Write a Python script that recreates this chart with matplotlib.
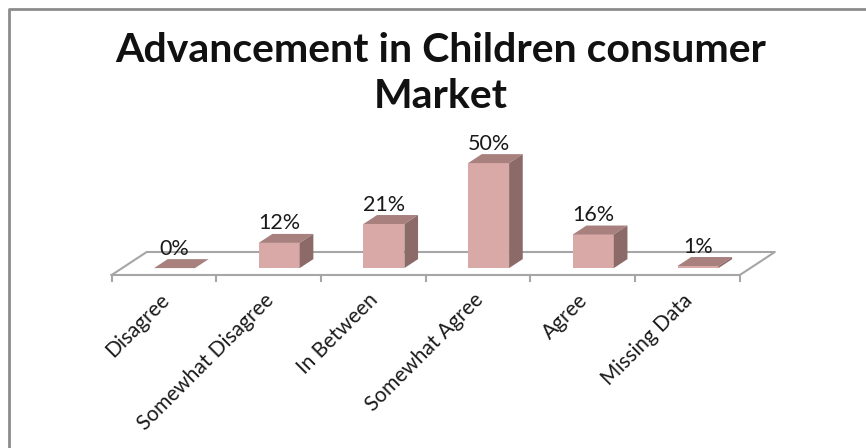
import matplotlib.pyplot as plt
from matplotlib.patches import Polygon

categories = ['Disagree', 'Somewhat Disagree', 'In Between', 'Somewhat Agree', 'Agree', 'Missing Data']
values = [0, 12, 21, 50, 16, 1]
value_labels = ['0%', '12%', '21%', '50%', '16%', '1%']

plt.rcParams['font.family'] = ['Lato', 'DejaVu Sans']

W, H = 866, 448
PX = 104.7   # pixels per category
PY = 2.1     # pixels per percent
X0 = 164     # pixel x of first category centre
Y0 = 275     # pixel y (from top) of floor front edge

# floor depth (full) and bar placement inside it, as fractions of depth
DX = 35 / PX
DY = 23 / PY
Z0, Z1 = 0.30, 0.69
BW = 41 / PX

front_c = '#d9a9a8'
top_c = '#a8817f'
side_c = '#8b6a68'
grid_c = '#a6a6a6'

fig = plt.figure(figsize=(W / 100, H / 100), dpi=100)
ax = fig.add_axes([0, 0, 1, 1])
ax.set_xlim(-X0 / PX, (W - X0) / PX)
ax.set_ylim((Y0 - H) / PY, Y0 / PY)
ax.axis('off')

n = len(categories)
xl, xr = -0.5, n - 0.5

# floor outline
ax.plot([xl, xr, xr + DX, xl + DX, xl], [0, 0, DY, DY, 0], color=grid_c, lw=1.5, zorder=1)
for i in range(n + 1):
    ax.plot([xl + i, xl + i], [0, -6 / PY], color=grid_c, lw=1.5, zorder=1)

# bars: front face via bar(), then top and side faces
xs = [i + Z0 * DX for i in range(n)]
base = Z0 * DY
ddx, ddy = (Z1 - Z0) * DX, (Z1 - Z0) * DY
ax.bar(xs, values, width=BW, bottom=base, color=front_c, zorder=3)
for x, v, lab in zip(xs, values, value_labels):
    l, r = x - BW / 2, x + BW / 2
    t = base + v
    ax.add_patch(Polygon([(l, t), (r, t), (r + ddx, t + ddy), (l + ddx, t + ddy)],
                         closed=True, facecolor=top_c, edgecolor='none', zorder=3))
    if v > 0:
        ax.add_patch(Polygon([(r, base), (r + ddx, base + ddy), (r + ddx, t + ddy), (r, t)],
                             closed=True, facecolor=side_c, edgecolor='none', zorder=3))
    ax.text(x, t + ddy + 4.5 / PY, lab, ha='center', va='baseline', fontsize=15.5, color='#1a1a1a', zorder=4)

# category labels
for i, c in enumerate(categories):
    ax.text(i - 0.05, -15 / PY, c, rotation=45, ha='right', va='top',
            rotation_mode='anchor', fontsize=15, color='#1a1a1a')

fig.text(441 / W, 1 - 62 / H, 'Advancement in Children consumer', ha='center', va='baseline',
         fontsize=29.5, fontweight='bold', color='#111111')
fig.text(441 / W, 1 - 108 / H, 'Market', ha='center', va='baseline',
         fontsize=29.5, fontweight='bold', color='#111111')

# chart frame (top and left edges)
fig.add_artist(plt.Line2D([9 / W, 9 / W, 1], [0, 1 - 9.5 / H, 1 - 9.5 / H],
                          transform=fig.transFigure, color='#8c8c8c', lw=2))

fig.savefig('out.png', dpi=100)
